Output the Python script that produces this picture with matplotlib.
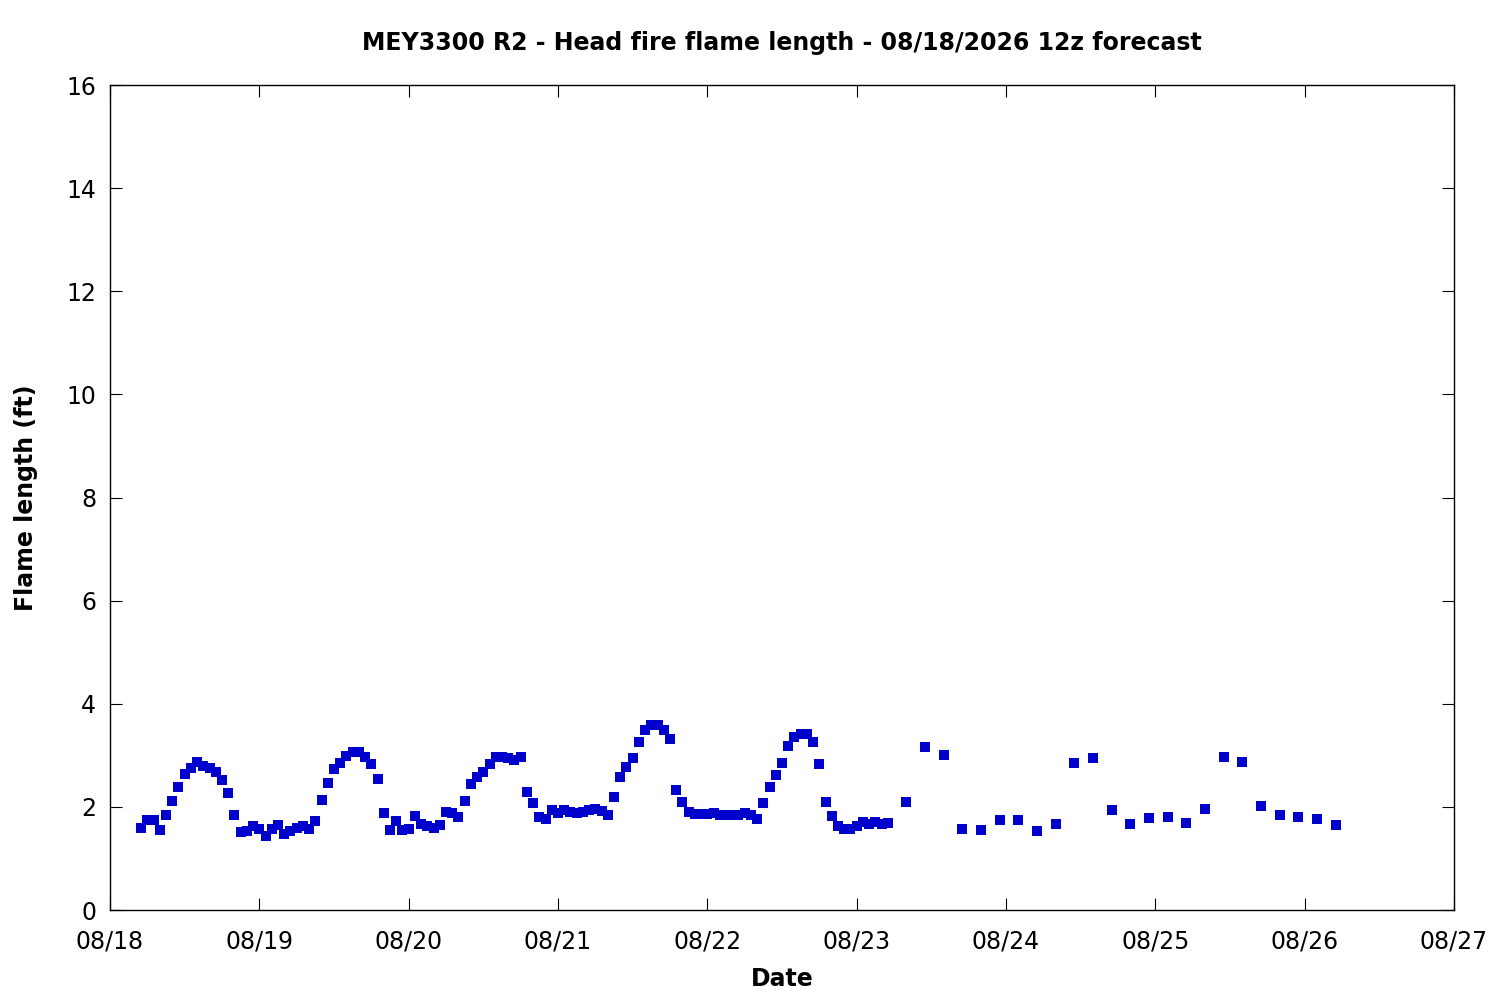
import numpy as np
import pandas as pd
import matplotlib
matplotlib.use('Agg')
import matplotlib.pyplot as plt
import matplotlib.dates as mdates

plt.rcParams['font.family'] = ['DejaVu Sans']

# 시간축: 08/18 05z ~ 08/23 05z 1시간 간격, 이후 3시간 간격
t_hourly = pd.date_range('2026-08-18 05:00', '2026-08-23 05:00', freq='h')
t_3hr = pd.date_range('2026-08-23 08:00', '2026-08-26 05:00', freq='3h')

# 화염 길이 (ft) - 그림에서 읽은 값
flame_hourly = [
    1.60, 1.75, 1.75, 1.56, 1.84, 2.11, 2.38, 2.63, 2.75, 2.87,
    2.79, 2.75, 2.67, 2.52, 2.26, 1.84, 1.51, 1.53, 1.62, 1.58,
    1.44, 1.57, 1.64, 1.47, 1.53, 1.60, 1.62, 1.58, 1.73, 2.13,
    2.46, 2.73, 2.86, 2.98, 3.06, 3.06, 2.96, 2.83, 2.55, 1.88,
    1.56, 1.72, 1.56, 1.58, 1.82, 1.66, 1.62, 1.60, 1.64, 1.90,
    1.88, 1.80, 2.11, 2.44, 2.57, 2.67, 2.83, 2.96, 2.96, 2.94,
    2.90, 2.96, 2.28, 2.07, 1.80, 1.77, 1.93, 1.89, 1.93, 1.91,
    1.89, 1.91, 1.94, 1.95, 1.92, 1.84, 2.20, 2.57, 2.77, 2.94,
    3.25, 3.50, 3.59, 3.59, 3.50, 3.31, 2.32, 2.09, 1.91, 1.86,
    1.86, 1.86, 1.88, 1.84, 1.84, 1.84, 1.84, 1.89, 1.84, 1.76,
    2.07, 2.38, 2.61, 2.85, 3.19, 3.35, 3.41, 3.41, 3.25, 2.83,
    2.09, 1.82, 1.62, 1.58, 1.58, 1.62, 1.70, 1.66, 1.70, 1.66,
    1.68,
]
flame_3hr = [
    2.09, 3.17, 3.00, 1.58, 1.56, 1.74, 1.74, 1.53, 1.66, 2.86,
    2.94, 1.93, 1.66, 1.78, 1.80, 1.68, 1.95, 2.96, 2.88, 2.01,
    1.84, 1.80, 1.76, 1.64,
]

times = list(t_hourly) + list(t_3hr)
flame = flame_hourly + flame_3hr

fig = plt.figure(figsize=(15, 10), dpi=100)
ax = fig.add_axes([0.0733, 0.09, 0.8960, 0.825])

ax.plot(times, flame, 's', color='#0000cc', ms=6.5, mew=0)

ax.set_xlim(pd.Timestamp('2026-08-18'), pd.Timestamp('2026-08-27'))
ax.set_ylim(0, 16)
ax.set_yticks(np.arange(0, 17, 2))
ax.xaxis.set_major_locator(mdates.DayLocator())
ax.xaxis.set_major_formatter(mdates.DateFormatter('%m/%d'))

ax.tick_params(direction='in', length=8.5, width=0.8, top=True, right=True,
               labelsize=17, pad=10)
ax.tick_params(axis='x', pad=14)
for s in ax.spines.values():
    s.set_linewidth(1.0)

ax.set_title('MEY3300 R2 - Head fire flame length - 08/18/2026 12z forecast',
             fontsize=17, fontweight='bold', pad=25)
ax.set_xlabel('Date', fontsize=17, fontweight='bold', labelpad=10)
ax.set_ylabel('Flame length (ft)', fontsize=17, fontweight='bold', labelpad=20)

fig.savefig('out.png', dpi=100)
